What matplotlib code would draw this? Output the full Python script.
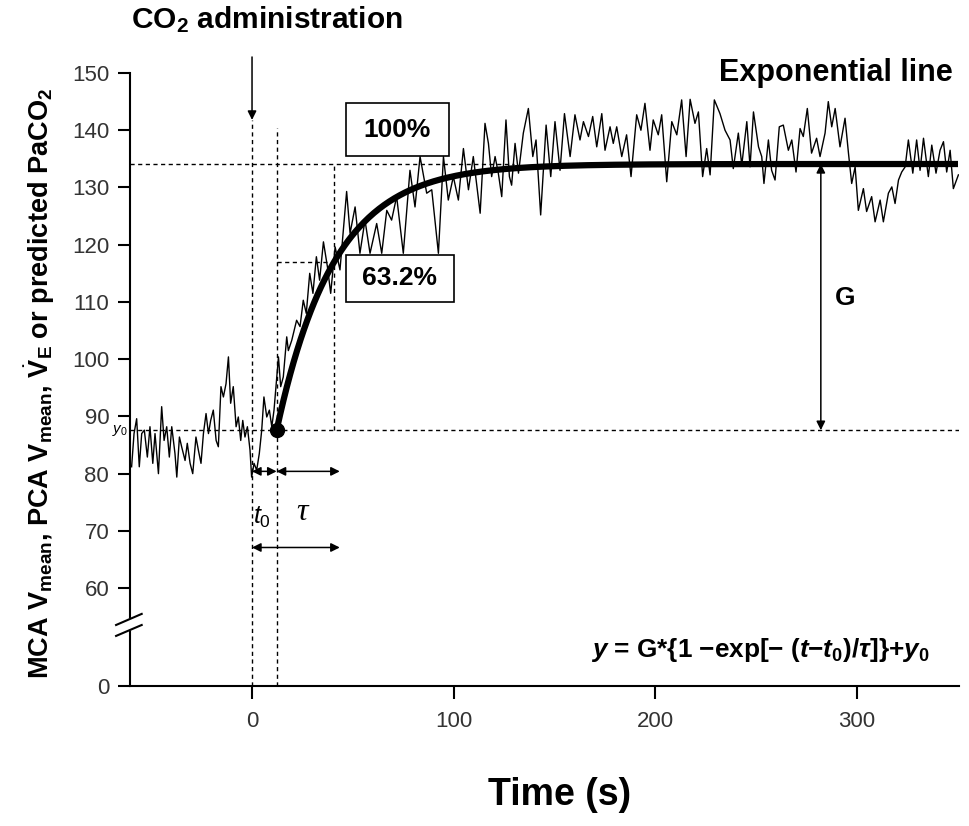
import numpy as np
import matplotlib.pyplot as plt
from matplotlib.patches import Rectangle

plt.rcParams['font.family'] = 'Liberation Sans'
plt.rcParams['mathtext.fontset'] = 'custom'
plt.rcParams['mathtext.rm'] = 'Liberation Sans'
plt.rcParams['mathtext.it'] = 'Liberation Sans:italic'
plt.rcParams['mathtext.bf'] = 'Liberation Sans:bold'
plt.rcParams['mathtext.sf'] = 'Liberation Sans:bold:italic'

trace_t = [-59.7, -58.5, -57.2, -55.9, -54.7, -53.4, -51.9, -50.6, -49.2, -48.1,
           -46.4, -44.8, -43.6, -42.3, -41.0, -39.8, -38.2, -37.3, -36.0, -34.9,
           -33.2, -32.1, -30.7, -29.4, -27.8, -26.6, -25.3, -24.1, -22.8, -21.6,
           -20.5, -19.2, -17.8, -16.7, -15.4, -14.2, -12.9, -11.7, -10.6, -9.3,
           -7.9, -6.8, -5.6, -4.6, -3.5, -2.3, -1.0, -0.2, 1.0, 2.3,
           3.6, 4.8, 5.9, 7.3, 8.6, 9.8, 10.9, 13.1, 14.2, 15.5,
           17.2, 18.0, 19.7, 22.1, 23.8, 25.4, 26.9, 28.6, 30.2, 31.9,
           33.5, 35.4, 37.4, 39.0, 41.2, 43.6, 46.9, 48.6, 51.1, 53.5,
           56.0, 58.5, 61.8, 64.3, 66.8, 69.2, 71.7, 75.0, 78.3, 80.8,
           83.3, 86.6, 89.1, 92.4, 94.9, 97.3, 99.8, 102.3, 104.8, 107.3,
           109.7, 113.1, 115.5, 117.2, 118.8, 120.5, 122.1, 123.8, 125.9, 127.6,
           128.7, 130.4, 132.1, 134.5, 137.0, 139.2, 140.8, 143.1, 145.8, 148.1,
           150.2, 152.7, 154.9, 157.7, 160.1, 162.6, 164.3, 166.8, 168.9, 170.9,
           173.4, 175.0, 177.5, 179.1, 180.8, 183.3, 185.7, 187.9, 190.7, 192.8,
           194.8, 197.3, 198.9, 201.4, 203.1, 205.6, 208.1, 210.6, 213.0, 215.2,
           217.2, 219.6, 221.3, 223.4, 225.4, 227.1, 229.2, 232.0, 234.5, 237.0,
           238.6, 241.1, 242.8, 245.3, 246.9, 248.6, 251.1, 252.7, 253.8, 256.0,
           257.6, 259.3, 261.4, 263.4, 265.9, 267.6, 269.7, 271.7, 273.3, 275.3,
           277.4, 279.9, 281.6, 284.1, 285.7, 287.4, 289.1, 291.5, 294.0, 295.7,
           297.3, 299.0, 300.6, 303.1, 304.7, 307.2, 308.9, 311.4, 313.0, 315.5,
           317.2, 318.8, 320.5, 322.1, 323.8, 325.4, 327.6, 329.5, 331.2, 332.9,
           335.3, 337.0, 339.1, 341.1, 342.8, 344.4, 346.1, 347.7, 350.2]
trace_y = [81.2, 87.0, 89.6, 81.2, 87.0, 87.6, 82.9, 88.2, 81.8, 87.0,
           80.0, 91.7, 85.8, 88.2, 82.9, 88.2, 83.5, 79.4, 86.4, 84.7,
           82.3, 85.3, 81.8, 80.0, 86.4, 84.1, 81.8, 87.0, 90.5, 87.0,
           89.3, 91.1, 85.8, 84.7, 95.2, 93.4, 95.7, 100.4, 92.3, 95.2,
           88.2, 89.9, 85.8, 89.3, 86.4, 88.2, 84.1, 79.4, 81.8, 80.6,
           83.5, 87.6, 93.4, 89.9, 91.1, 88.2, 91.1, 100.4, 95.2, 96.9,
           103.9, 101.5, 103.3, 106.8, 105.7, 110.3, 108.0, 115.0, 111.5, 117.9,
           113.8, 120.5, 116.1, 111.5, 119.6, 115.6, 129.3, 122.0, 126.6, 118.5,
           124.3, 118.5, 123.7, 118.5, 126.0, 124.3, 128.4, 118.5, 133.0, 126.6,
           135.4, 129.0, 129.6, 118.5, 135.4, 127.8, 131.9, 127.8, 136.8, 129.6,
           135.4, 125.5, 141.2, 137.7, 131.9, 135.4, 132.5, 128.4, 141.8, 131.9,
           130.4, 137.7, 132.5, 139.5, 143.8, 135.4, 138.3, 125.2, 140.9, 131.9,
           141.5, 133.0, 142.9, 135.4, 142.7, 138.3, 141.5, 138.9, 142.4, 137.1,
           142.9, 136.5, 140.6, 137.7, 140.6, 135.4, 139.2, 131.9, 142.7, 140.0,
           144.7, 136.5, 141.8, 139.2, 142.7, 131.0, 141.5, 139.2, 145.3, 135.4,
           145.4, 141.2, 143.2, 131.9, 136.8, 132.2, 145.3, 142.9, 140.0, 138.3,
           133.3, 139.5, 133.9, 141.5, 133.6, 143.2, 137.1, 135.4, 130.7, 138.3,
           133.0, 131.3, 140.6, 140.9, 136.5, 138.3, 132.7, 140.3, 138.9, 143.8,
           136.0, 138.6, 135.4, 139.5, 145.0, 140.6, 143.8, 137.1, 142.1, 136.0,
           130.7, 133.6, 126.0, 129.8, 125.8, 128.4, 124.0, 127.8, 124.0, 129.0,
           130.1, 127.2, 131.3, 132.7, 133.6, 138.3, 132.5, 138.3, 133.0, 138.6,
           131.9, 137.4, 132.5, 136.5, 138.0, 132.7, 136.5, 129.8, 132.2]

# exponential fit parameters
y0 = 87.6
G = 46.5
t0 = 12.2
tau = 28.5
t_end = 350

xticks = [0, 100, 200, 300]
yticks = [0, 60, 70, 80, 90, 100, 110, 120, 130, 140, 150]


# broken y axis: squeeze 0-60
def fwd(v):
    v = np.asarray(v, dtype=float)
    return np.where(v >= 60, v - 42.9, v * 17.1 / 60)


def inv(u):
    u = np.asarray(u, dtype=float)
    return np.where(u >= 17.1, u + 42.9, u * 60 / 17.1)


fig = plt.figure(figsize=(9.69, 8.26), dpi=100)
ax = fig.add_axes([130 / 969, 140 / 826, 829 / 969, 613 / 826])
ax.set_yscale('function', functions=(fwd, inv))
ax.set_xlim(-60.5, 350.5)
ax.set_ylim(0, 150)

dash = dict(color='k', lw=1.0, linestyle=(0, (3, 2.5)))

# guide lines
ax.plot([-60.5, 350.5], [y0, y0], **dash, zorder=1)
ax.plot([-60.5, 130], [y0 + G, y0 + G], **dash, zorder=1)
ax.plot([t0, t0 + tau], [y0 + 0.632 * G] * 2, **dash, zorder=1)
ax.plot([t0 + tau, t0 + tau], [y0, y0 + G], **dash, zorder=1)
ax.plot([0, 0], [0, 141.8], **dash, zorder=1)
ax.plot([t0, t0], [0, 140.4], **dash, zorder=1)

# signal
ax.plot(trace_t, trace_y, color='k', lw=1.0, zorder=2)

# exponential line
t_fit = np.linspace(t0, t_end, 400)
y_fit = y0 + G * (1 - np.exp(-(t_fit - t0) / tau))
ax.plot(t_fit, y_fit, color='k', lw=4.5, solid_capstyle='butt', zorder=3)
ax.plot([t0], [y0], 'o', color='k', ms=10, zorder=4)

# boxes
ax.add_patch(Rectangle((46.5, 135.5), 51.2, 9.3, fc='white', ec='k', lw=1.2, zorder=5))
ax.add_patch(Rectangle((46.5, 110.0), 53.4, 8.2, fc='white', ec='k', lw=1.2, zorder=5))
ax.text(72.1, 140.1, '100%', ha='center', va='center', fontsize=19, fontweight='bold', zorder=6)
ax.text(73.2, 114.1, '63.2%', ha='center', va='center', fontsize=19, fontweight='bold', zorder=6)

# arrows
arw = dict(arrowstyle='<|-|>', color='k', lw=1.1, shrinkA=0, shrinkB=0, mutation_scale=13)
ax.annotate('', xy=(0, 80.4), xytext=(t0, 80.4), arrowprops=arw)
ax.annotate('', xy=(t0, 80.4), xytext=(43.5, 80.4), arrowprops=arw)
ax.annotate('', xy=(0, 67.1), xytext=(43.5, 67.1), arrowprops=arw)
ax.annotate('', xy=(282, y0), xytext=(282, y0 + G), arrowprops=arw)
ax.annotate('', xy=(0, 141.8), xytext=(0, 152.8), annotation_clip=False,
            arrowprops=dict(arrowstyle='-|>', color='k', lw=1.1, shrinkA=0, shrinkB=0, mutation_scale=13))

ax.text(294, 110.7, 'G', ha='center', va='center', fontsize=19, fontweight='bold')
ax.text(5.0, 72.4, r'$t_0$', ha='center', va='center', fontsize=18)
ax.text(24.6, 73.3, 'τ', ha='center', va='center', fontsize=23,
        fontfamily='Liberation Serif', style='italic')
ax.text(-61.5, y0, r'$y_0$', ha='right', va='center', fontsize=11, clip_on=False)

# axis break
bx = [-67.4, -54.7]
ax.fill([bx[0], bx[1], bx[1], bx[0]], [30.7, 37.4, 44.2, 37.4], color='white', zorder=5, clip_on=False)
ax.plot(bx, [30.7, 37.4], color='k', lw=1.5, zorder=6, clip_on=False)
ax.plot(bx, [37.4, 44.2], color='k', lw=1.5, zorder=6, clip_on=False)

ax.set_xticks(xticks)
ax.set_yticks(yticks)
ax.set_yticklabels([str(v) for v in yticks])
ax.minorticks_off()
ax.tick_params(axis='both', direction='out', length=9, width=1.5, labelsize=16, labelcolor='#333333')
ax.tick_params(axis='x', pad=9)
ax.tick_params(axis='y', pad=6)
for s in ['top', 'right']:
    ax.spines[s].set_visible(False)
for s in ['left', 'bottom']:
    ax.spines[s].set_linewidth(1.5)

fig.text(267 / 969, 1 - 20 / 826, r'CO$_\mathbf{2}$ administration', ha='center', va='center',
         fontsize=21.5, fontweight='bold')
fig.text(953 / 969, 1 - 73 / 826, 'Exponential line', ha='right', va='center',
         fontsize=22, fontweight='bold')
fig.text(930 / 969, 1 - 650 / 826,
         r'$\mathsf{y}$ = G*{1 −exp[− ($\mathsf{t}$−$\mathsf{t}_\mathbf{0}$)/$\mathsf{\tau}$]}+$\mathsf{y}_\mathbf{0}$',
         ha='right', va='center', fontsize=18.8, fontweight='bold')
fig.text(560 / 969, 1 - 795 / 826, 'Time (s)', ha='center', va='center', fontsize=27, fontweight='bold')
fig.text(40 / 969, 1 - 383 / 826,
         r'MCA V$_\mathbf{mean}$, PCA V$_\mathbf{mean}$, $\dot{\mathbf{V}}_\mathbf{E}$ or predicted PaCO$_\mathbf{2}$',
         rotation=90, ha='center', va='center', fontsize=19.5, fontweight='bold')

fig.savefig('out.png', dpi=100)
